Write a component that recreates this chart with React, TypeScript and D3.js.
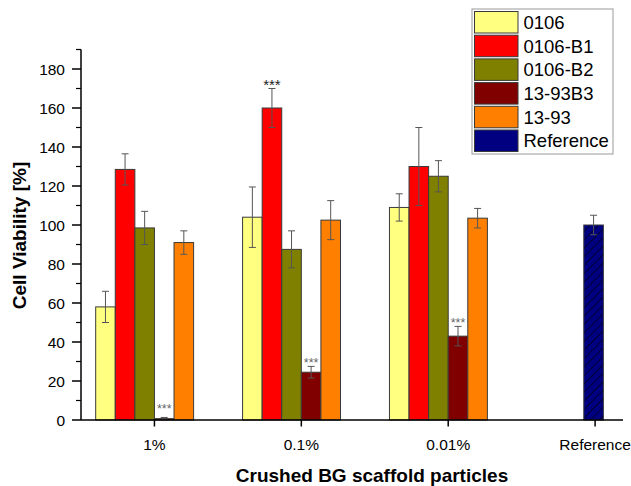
import React from 'react';
import * as d3 from 'd3';

const categories = ['1%', '0.1%', '0.01%', 'Reference'];
const seriesNames = ['0106', '0106-B1', '0106-B2', '13-93B3', '13-93', 'Reference'];
const seriesColors = ['#ffff80', '#ff0000', '#808000', '#800000', '#ff8000', '#000080'];

// values per category (null = no bar)
const v0106 = [58, 104, 109, null];
const v0106B1 = [128.5, 160, 130, null];
const v0106B2 = [98.5, 87.5, 125, null];
const v1393B3 = [0.7, 24.5, 43, null];
const v1393 = [91, 102.5, 103.5, null];
const vRef = [null, null, null, 100];

const e0106 = [8, 15.5, 7, null];
const e0106B1 = [8, 10, 20, null];
const e0106B2 = [8.5, 9.5, 8, null];
const e1393B3 = [0.6, 3, 5, null];
const e1393 = [6, 10, 5, null];
const eRef = [null, null, null, 5];

const values = [v0106, v0106B1, v0106B2, v1393B3, v1393, vRef];
const errors = [e0106, e0106B1, e0106B2, e1393B3, e1393, eRef];

// significance marks: [series index, category index]
const stars = [[1, 1], [3, 0], [3, 1], [3, 2]];

const yTicks = [0, 20, 40, 60, 80, 100, 120, 140, 160, 180];
const yMinor = [10, 30, 50, 70, 90, 110, 130, 150, 170, 190];

const W = 631;
const H = 486;
const font = 'Arial, "Liberation Sans", sans-serif';

export default function App() {
  const x = d3.scaleLinear().domain([0.5, 4.19]).range([81, 623]);
  const y = d3.scaleLinear().domain([0, 190]).range([420, 49.5]);
  const bw = x(0.8 / 6) - x(0);
  const slot = d3.scaleBand<string>().domain(seriesNames).range([-3 * bw, 3 * bw]);

  const barX = (s: number, c: number) =>
    categories[c] === 'Reference' ? x(c + 1) - bw / 2 - 1.5 : x(c + 1) + (slot(seriesNames[s]) as number);

  const bars: any[] = [];
  const errs: any[] = [];
  values.forEach((arr, s) => {
    arr.forEach((v, c) => {
      if (v == null) return;
      const bx = barX(s, c);
      const fill = s === 5 ? 'url(#hatch)' : seriesColors[s];
      bars.push(
        <rect key={`b${s}-${c}`} x={bx} y={y(v)} width={bw} height={y(0) - y(v)}
          fill={fill} stroke="#3a3a3a" strokeWidth={1} />
      );
      const e = errors[s][c];
      if (e != null) {
        const cx = bx + bw / 2;
        errs.push(
          <g key={`e${s}-${c}`} stroke="#555" strokeWidth={1}>
            <line x1={cx} x2={cx} y1={y(v + e)} y2={y(v - e)} />
            <line x1={cx - 3.5} x2={cx + 3.5} y1={y(v + e)} y2={y(v + e)} />
            <line x1={cx - 3.5} x2={cx + 3.5} y1={y(v - e)} y2={y(v - e)} />
          </g>
        );
      }
    });
  });

  const starMarks = stars.map(([s, c], i) => {
    const v = values[s][c] as number;
    const e = errors[s][c] as number;
    const big = s === 1;
    return (
      <text key={`s${i}`} x={barX(s, c) + bw / 2} y={Math.min(y(v + e) + 1, y(0) - 7)}
        textAnchor="middle" fontSize={big ? 15 : 12.5} fill={big ? '#222' : '#666'}
        fontFamily={font}>***</text>
    );
  });

  const legendX = 472;
  const legendY = 9;
  const rowH = 23.7;

  return (
    <svg width={W} height={H} style={{ position: 'absolute', left: 0, top: 0, background: '#fff' }}>
      <defs>
        <pattern id="hatch" patternUnits="userSpaceOnUse" width={6} height={6} patternTransform="rotate(45)">
          <rect width={6} height={6} fill="#000080" />
          <line x1={0} y1={0} x2={0} y2={6} stroke="#00003a" strokeWidth={2} />
        </pattern>
      </defs>

      {bars}
      {errs}
      {starMarks}

      {/* y axis */}
      <line x1={x(0.5)} x2={x(0.5)} y1={y(0)} y2={y(190)} stroke="#000" strokeWidth={1.5} />
      {yTicks.map((t) => (
        <g key={`yt${t}`}>
          <line x1={x(0.5) - 9} x2={x(0.5)} y1={y(t)} y2={y(t)} stroke="#000" strokeWidth={1.5} />
          <text x={x(0.5) - 16} y={y(t)} dy="0.36em" textAnchor="end" fontSize={15.5} fontFamily={font}>{t}</text>
        </g>
      ))}
      {yMinor.map((t) => (
        <line key={`ym${t}`} x1={x(0.5) - 5} x2={x(0.5)} y1={y(t)} y2={y(t)} stroke="#000" strokeWidth={1.2} />
      ))}

      {/* x axis */}
      <line x1={x(0.5)} x2={x(4.19)} y1={y(0)} y2={y(0)} stroke="#000" strokeWidth={1.5} />
      {categories.map((c, i) => (
        <g key={`xt${c}`}>
          <line x1={x(i + 1)} x2={x(i + 1)} y1={y(0)} y2={y(0) + 6.5} stroke="#000" strokeWidth={1.5} />
          <text x={x(i + 1)} y={449.5} textAnchor="middle" fontSize={15.5} fontFamily={font}>{c}</text>
        </g>
      ))}

      <text x={372} y={482} textAnchor="middle" fontSize={19} fontWeight="bold" fontFamily={font}>
        Crushed BG scaffold particles
      </text>
      <text transform="translate(25.5,235.5) rotate(-90)" textAnchor="middle" fontSize={19} fontWeight="bold" fontFamily={font}>
        Cell Viability [%]
      </text>

      {/* legend */}
      <rect x={legendX} y={legendY} width={141} height={145} fill="#fff" stroke="#999" strokeWidth={1} />
      {seriesNames.map((n, i) => (
        <g key={`lg${n}`}>
          <rect x={legendX + 2.5} y={legendY + 2.5 + i * rowH} width={43.5} height={21.5}
            fill={seriesColors[i]} stroke="#3a3a3a" strokeWidth={1} />
          <text x={legendX + 51.5} y={legendY + 2.5 + i * rowH + 10.75} dy="0.36em"
            fontSize={18.5} fontFamily={font}>{n}</text>
        </g>
      ))}
    </svg>
  );
}
